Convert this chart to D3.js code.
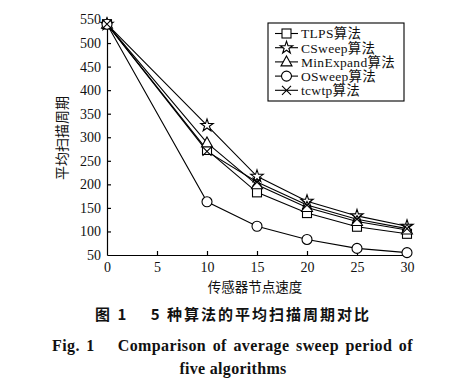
<!DOCTYPE html>
<html><head><meta charset="utf-8">
<script src="https://cdn.jsdelivr.net/npm/d3@7"></script>
<style>body{margin:0;background:#fff}svg{display:block}</style>
</head><body>
<svg id="c" width="455" height="382"></svg>
<script>
const speeds = [0, 10, 15, 20, 25, 30];
const seriesNames = ["TLPS算法", "CSweep算法", "MinExpand算法", "OSweep算法", "tcwtp算法"];
const markerTypes = ["square", "star", "triangle", "circle", "cross"];
const tlps      = [540, 273, 183, 139, 110, 95];
const csweep    = [540, 325, 217, 164, 133, 111];
const minexpand = [540, 288, 199, 151, 121, 103];
const osweep    = [540, 163, 111, 83, 64, 55];
const tcwtp     = [540, 270, 205, 156, 126, 106];
const seriesValues = [tlps, csweep, minexpand, osweep, tcwtp];
const xTicks = [0, 5, 10, 15, 20, 25, 30];
const yTicks = [50, 100, 150, 200, 250, 300, 350, 400, 450, 500, 550];
const xTitle = "传感器节点速度";
const yTitle = "平均扫描周期";
const caption1 = "图 1　 5 种算法的平均扫描周期对比";
const caption2 = "Fig. 1　 Comparison of average sweep period of";
const caption3 = "five algorithms";

const svg = d3.select("#c");
const font = "'Liberation Serif','Times New Roman','Noto Sans CJK SC',serif";
const x = d3.scaleLinear().domain([0, 30]).range([107, 407]);
const y = d3.scaleLinear().domain([50, 550]).range([255, 19.5]);

// axes
const xAxis = svg.append("g").attr("transform", `translate(0,${y(50)})`)
  .call(d3.axisBottom(x).tickValues(xTicks).tickSizeInner(-4).tickSizeOuter(0).tickPadding(7));
const yAxis = svg.append("g").attr("transform", `translate(${x(0)},0)`)
  .call(d3.axisLeft(y).tickValues(yTicks).tickSizeInner(-4).tickSizeOuter(0).tickPadding(6));
[xAxis, yAxis].forEach(a => {
  a.selectAll("path,line").attr("stroke", "#000").attr("stroke-width", 1.2);
  a.selectAll("text").attr("font-family", font).attr("font-size", 14).attr("fill", "#111");
});
xAxis.selectAll(".tick line").filter(d => d === 0).remove();
yAxis.selectAll(".tick line").filter(d => d === 50).remove();

svg.append("text").attr("x", 255).attr("y", 292).attr("text-anchor", "middle")
  .attr("font-family", "'Noto Sans CJK SC',sans-serif").attr("font-size", 13.5).attr("fill", "#111").text(xTitle);
svg.append("text").attr("transform", `translate(67,138) rotate(-90)`).attr("text-anchor", "middle")
  .attr("font-family", "'Noto Sans CJK SC',sans-serif").attr("font-size", 14).attr("fill", "#111").text(yTitle);

function drawMarker(g, type, cx, cy) {
  const s = g.append("g").attr("transform", `translate(${cx},${cy})`);
  const st = {fill: "none", stroke: "#000", "stroke-width": 1.1};
  const apply = el => { Object.entries(st).forEach(([k, v]) => el.attr(k, v)); return el; };
  if (type === "square") apply(s.append("rect").attr("x", -4.5).attr("y", -4.5).attr("width", 9).attr("height", 9)).attr("fill", "#fff");
  else if (type === "circle") apply(s.append("circle").attr("r", 5)).attr("fill", "#fff");
  else if (type === "triangle") apply(s.append("path").attr("d", "M0,-6L5.5,4L-5.5,4Z")).attr("fill", "#fff");
  else if (type === "star") apply(s.append("path").attr("d", d3.symbol(d3.symbolStar, 48)())).attr("fill", "#fff");
  else if (type === "cross") apply(s.append("path").attr("d", "M-4.5,-4.5L4.5,4.5M-4.5,4.5L4.5,-4.5"));
}

const line = d3.line().x((d, i) => x(speeds[i])).y(d => y(d));
seriesValues.forEach((vals, si) => {
  svg.append("path").attr("d", line(vals)).attr("fill", "none").attr("stroke", "#000").attr("stroke-width", 1.1);
});
seriesValues.forEach((vals, si) => {
  const g = svg.append("g");
  vals.forEach((v, i) => drawMarker(g, markerTypes[si], x(speeds[i]), y(v)));
});

// legend
const lg = svg.append("g");
lg.append("rect").attr("x", 268).attr("y", 23).attr("width", 136).attr("height", 78)
  .attr("fill", "#fff").attr("stroke", "#000").attr("stroke-width", 1.1);
seriesNames.forEach((name, i) => {
  const cy = 33.5 + i * 14.2;
  lg.append("line").attr("x1", 275).attr("x2", 298).attr("y1", cy).attr("y2", cy).attr("stroke", "#000").attr("stroke-width", 1.1);
  drawMarker(lg, markerTypes[i], 286.5, cy);
  lg.append("text").attr("x", 301).attr("y", cy + 4.8).attr("font-family", font).attr("font-size", 13.5)
    .attr("letter-spacing", 0.3).attr("fill", "#111").text(name);
});

// captions
svg.append("text").attr("x", 233).attr("y", 320).attr("text-anchor", "middle")
  .attr("font-family", "'Noto Sans CJK SC',sans-serif").attr("font-weight", "bold").attr("font-size", 15)
  .attr("letter-spacing", 2).attr("fill", "#111").text(caption1);
const c2 = svg.append("text").attr("x", 52).attr("y", 351)
  .attr("font-family", font).attr("font-weight", "bold").attr("font-size", 16)
  .attr("letter-spacing", 0.4).attr("fill", "#111").text(caption2);
const natural = c2.node().getComputedTextLength();
const nSpaces = (caption2.match(/ /g) || []).length;
if (natural < 361 && nSpaces > 0) c2.attr("word-spacing", (361 - natural) / nSpaces);
svg.append("text").attr("x", 233).attr("y", 374).attr("text-anchor", "middle")
  .attr("font-family", font).attr("font-weight", "bold").attr("font-size", 16)
  .attr("letter-spacing", 0.3).attr("fill", "#111").text(caption3);
</script>
</body></html>
